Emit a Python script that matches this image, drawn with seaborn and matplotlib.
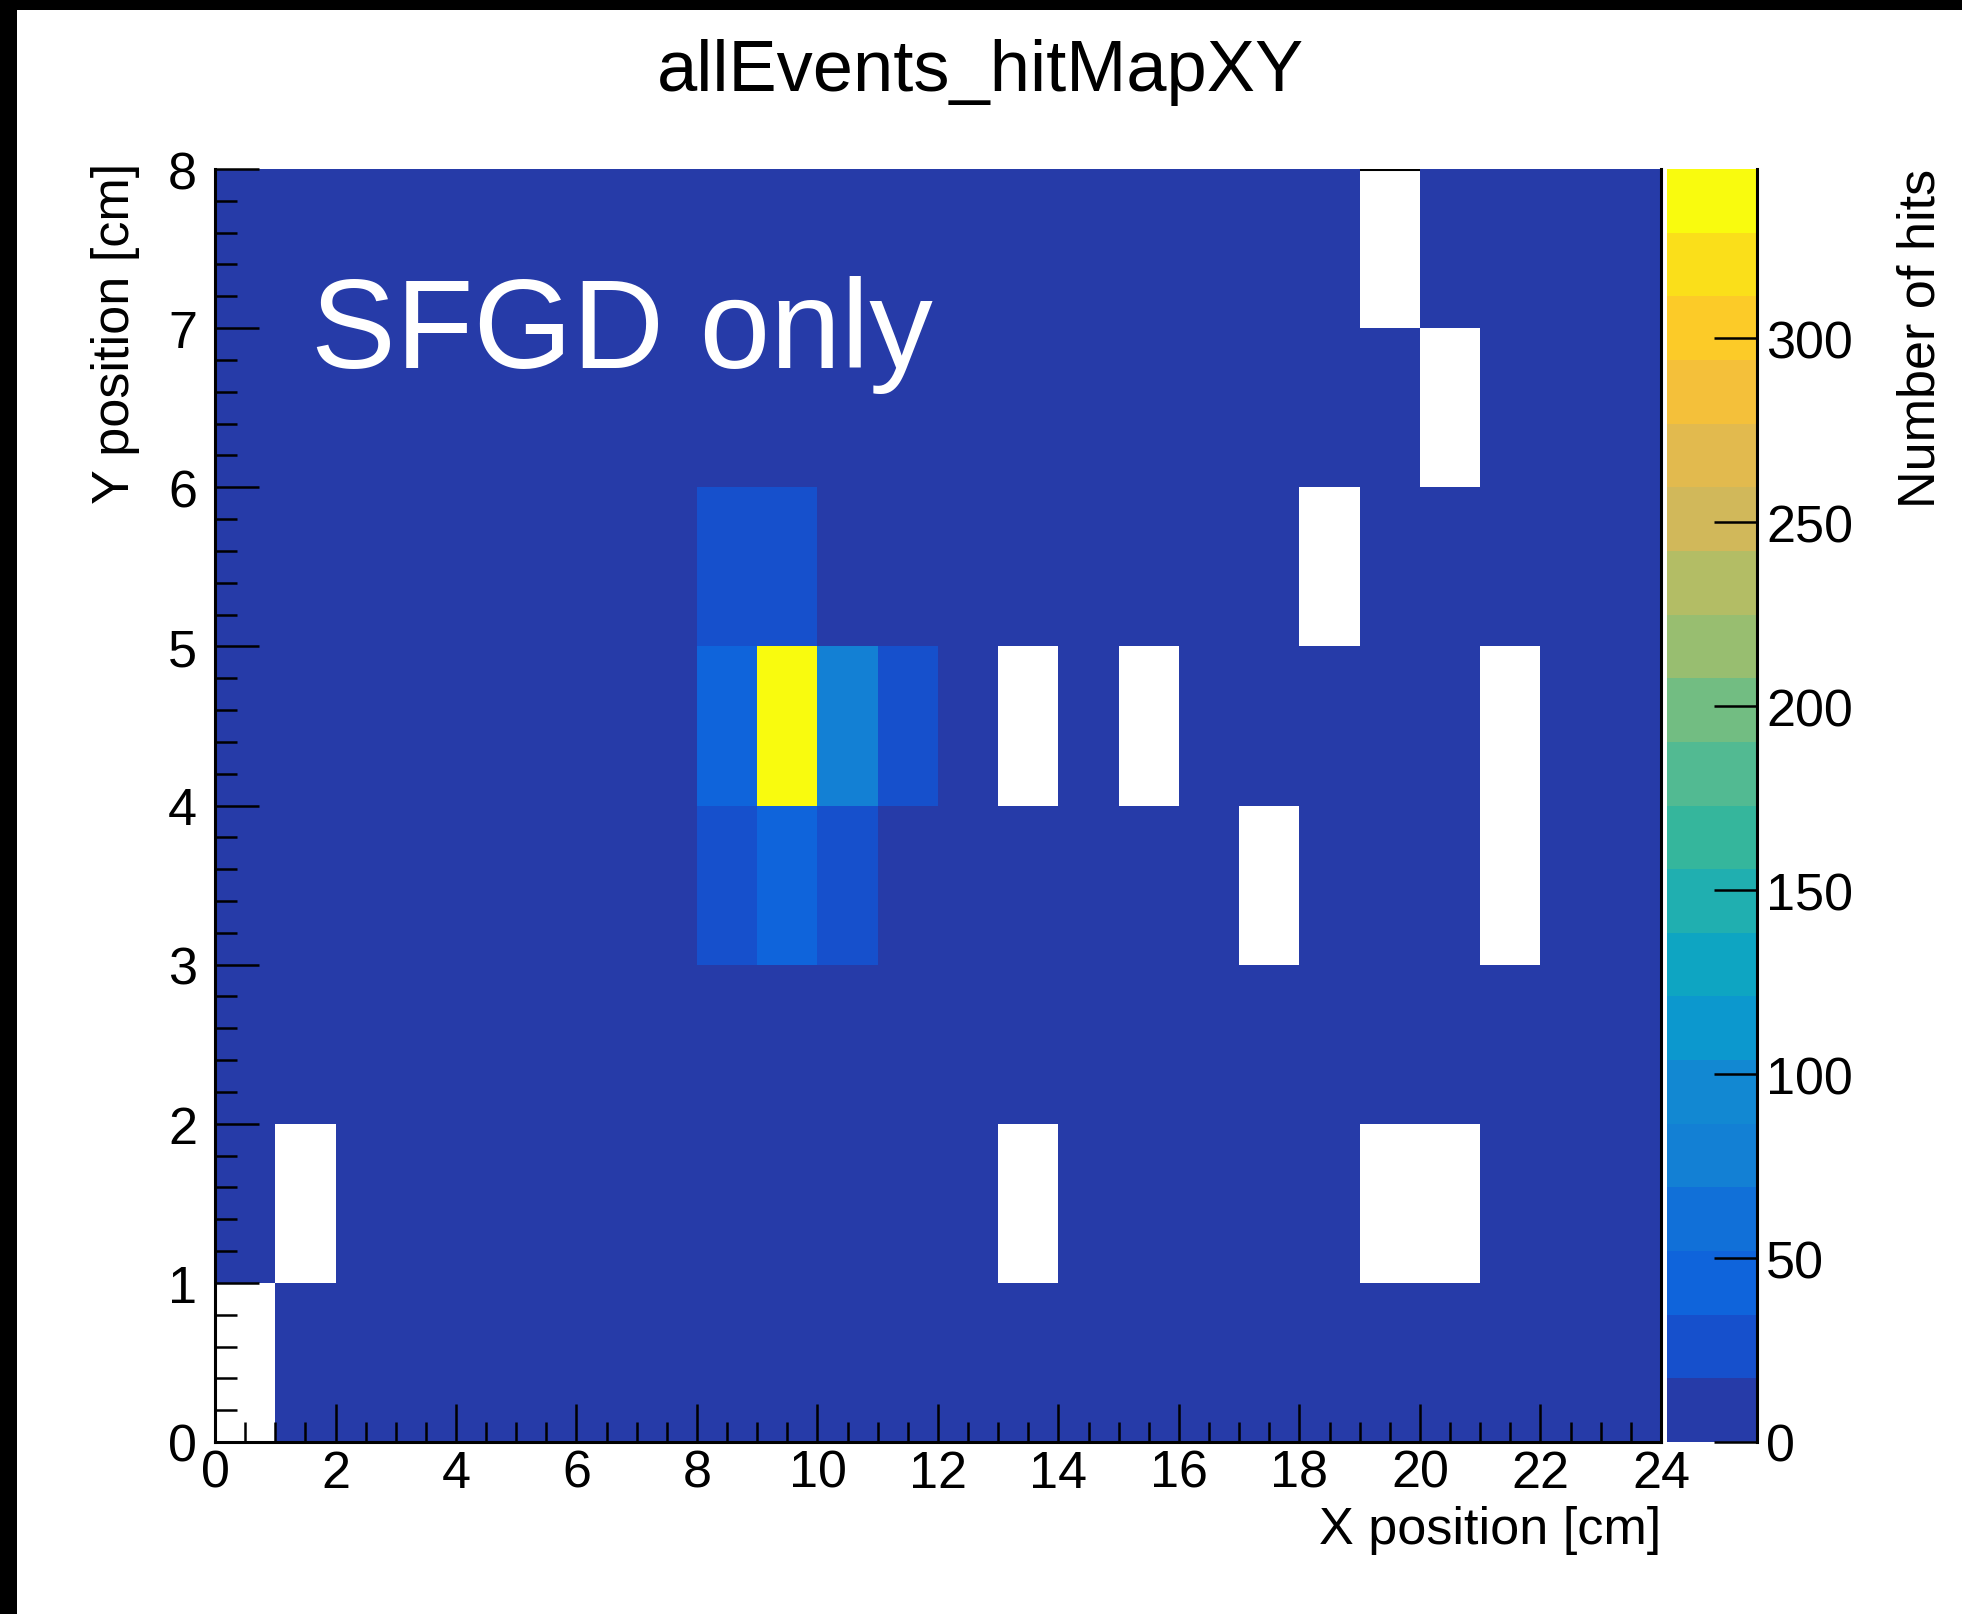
import numpy as np
import pandas as pd
import matplotlib
matplotlib.use("Agg")
import matplotlib.pyplot as plt
from matplotlib.colors import ListedColormap, BoundaryNorm
from matplotlib.ticker import MultipleLocator
from matplotlib.patches import Rectangle
import seaborn as sns

plt.rcParams['font.family'] = ['Liberation Sans', 'DejaVu Sans']

# ---------------- data ----------------
x_bins = list(range(24))          # bin lower edges, 1 cm wide
y_bins = list(range(8))
# hits[y][x], y from 0 (bottom) to 7 (top); 0 = empty (not drawn)
hits_y0 = [0, 5, 6, 7, 8, 8, 9, 10, 11, 12, 11, 10, 9, 8, 7, 6, 6, 5, 4, 5, 4, 3, 4, 3]
hits_y1 = [6, 0, 7, 8, 9, 9, 10, 11, 12, 13, 12, 11, 9, 0, 8, 7, 6, 5, 5, 0, 0, 4, 5, 4]
hits_y2 = [7, 6, 8, 9, 10, 11, 12, 13, 15, 16, 14, 12, 11, 10, 9, 8, 7, 6, 5, 5, 4, 5, 4, 3]
hits_y3 = [8, 7, 9, 10, 11, 12, 14, 16, 26, 44, 24, 16, 13, 11, 10, 9, 8, 0, 6, 5, 6, 0, 5, 4]
hits_y4 = [9, 8, 10, 11, 12, 13, 15, 16, 45, 346, 78, 28, 15, 0, 11, 0, 9, 8, 7, 6, 5, 0, 6, 5]
hits_y5 = [8, 7, 9, 8, 10, 11, 13, 15, 25, 27, 16, 14, 12, 10, 9, 8, 7, 6, 0, 5, 6, 7, 5, 6]
hits_y6 = [7, 6, 8, 7, 9, 8, 10, 12, 14, 15, 13, 11, 9, 8, 7, 6, 5, 6, 5, 4, 0, 5, 6, 4]
hits_y7 = [6, 5, 7, 8, 6, 7, 9, 8, 10, 11, 9, 8, 7, 6, 7, 5, 6, 4, 5, 0, 6, 5, 4, 5]

z_max = 346
n_levels = 20
band_colors = ['#263BA8', '#1650CC', '#0F64DB', '#1170D8', '#1380D4',
               '#1288D2', '#0C98CE', '#0EA5C2', '#20AFB0', '#35B69C',
               '#52BA92', '#72BD82', '#98BE70', '#B3BD65', '#D1B85A',
               '#E2BA4E', '#F4C03A', '#FCCB28', '#FADF1A', '#F9FB0E']

x_ticks = list(range(0, 25, 2))
y_ticks = list(range(0, 9))
cbar_ticks = [0, 50, 100, 150, 200, 250, 300]

title = "allEvents_hitMapXY"
x_title = "X position [cm]"
y_title = "Y position [cm]"
z_title = "Number of hits"
annotation = "SFGD only"

# ---------------- figure ----------------
W, H = 1962, 1615
fig = plt.figure(figsize=(W / 100, H / 100), dpi=100)
fig.patch.set_facecolor('white')

ax_l, ax_r, ax_t, ax_b = 215, 1661, 170, 1443
ax = fig.add_axes([ax_l / W, (H - ax_b) / H, (ax_r - ax_l) / W, (ax_b - ax_t) / H])
cb_l, cb_r = 1667, 1757
cax = fig.add_axes([cb_l / W, (H - ax_b) / H, (cb_r - cb_l) / W, (ax_b - ax_t) / H])

hits = [hits_y0, hits_y1, hits_y2, hits_y3, hits_y4, hits_y5, hits_y6, hits_y7]
df = pd.DataFrame(hits, index=y_bins, columns=x_bins)
mask = df == 0

levels = np.linspace(0, z_max, n_levels + 1)
cmap = ListedColormap(band_colors)
cmap.set_over(band_colors[-1])
norm = BoundaryNorm(levels, cmap.N)

sns.heatmap(df, mask=mask, cmap=cmap, norm=norm, ax=ax, cbar=True, cbar_ax=cax,
            xticklabels=False, yticklabels=False, linewidths=0)

ax.set_xlim(0, 24)
ax.set_ylim(0, 8)

# spines
for side in ['left', 'bottom', 'right', 'top']:
    ax.spines[side].set_visible(True)
    ax.spines[side].set_color('black')
    ax.spines[side].set_linewidth(2.2)
# top frame line lies under the bins: only visible above empty bins
ax.spines['top'].set_zorder(0.5)
ax.spines['top'].set_clip_path(ax.patch)

# ticks
ax.set_xticks(x_ticks)
ax.set_xticklabels([str(v) for v in x_ticks])
ax.set_yticks(y_ticks)
ax.set_yticklabels([str(v) for v in y_ticks])
ax.xaxis.set_minor_locator(MultipleLocator(0.5))
ax.yaxis.set_minor_locator(MultipleLocator(0.2))
ax.tick_params(axis='x', which='major', direction='in', length=27.5, width=1.8,
               labelsize=37.5, pad=5, bottom=True, top=False, colors='black')
ax.tick_params(axis='x', which='minor', direction='in', length=14.5, width=1.8,
               bottom=True, top=False)
ax.tick_params(axis='y', which='major', direction='in', length=32, width=1.8,
               labelsize=37.5, pad=13, left=True, right=False)
ax.tick_params(axis='y', which='minor', direction='in', length=15.5, width=1.8,
               left=True, right=False)

# axis titles
ax.set_xlabel(x_title, fontsize=37.5)
ax.xaxis.label.set_ha('right')
ax.xaxis.label.set_va('center')
ax.xaxis.set_label_coords(1.0, (ax_b - 1531) / (ax_b - ax_t))

ax.set_ylabel(y_title, fontsize=37.5)
ax.yaxis.label.set_rotation_mode('default')
ax.yaxis.label.set_ha('center')
ax.yaxis.label.set_va('top')
ax.yaxis.set_label_coords((115 - ax_l) / (ax_r - ax_l), (ax_b - 163) / (ax_b - ax_t))

# annotation
ax.text((311 - ax_l) / (ax_r - ax_l), (ax_b - 368) / (ax_b - ax_t), annotation,
        transform=ax.transAxes, color='white', fontsize=91.5,
        ha='left', va='baseline')

# colorbar
cb = ax.collections[0].colorbar
cb.set_ticks(cbar_ticks)
cb.set_ticklabels([str(v) for v in cbar_ticks])
cb.minorticks_off()
cb.outline.set_visible(False)
cax.spines['right'].set_visible(True)
cax.spines['right'].set_color('black')
cax.spines['right'].set_linewidth(2.2)
cax.yaxis.set_ticks_position('right')
cax.tick_params(axis='y', which='major', direction='in', length=31, width=1.8,
                labelsize=37.5, pad=6.5, right=True, left=False)
cax.set_ylabel(z_title, fontsize=37.5)
cax.yaxis.set_label_position('right')
cax.yaxis.label.set_rotation(90)
cax.yaxis.label.set_rotation_mode('default')
cax.yaxis.label.set_ha('center')
cax.yaxis.label.set_va('top')
cax.yaxis.set_label_coords((1921 - cb_l) / (cb_r - cb_l), (ax_b - 169) / (ax_b - ax_t))

# title
fig.text(0.5, (H - 91) / H, title, fontsize=52, ha='center', va='baseline')

# black screenshot border (top and left)
fig.patches.append(Rectangle((0, 1 - 11 / H), 1, 11 / H, transform=fig.transFigure,
                             facecolor='black', edgecolor='none', zorder=10))
fig.patches.append(Rectangle((0, 0), 17 / W, 1, transform=fig.transFigure,
                             facecolor='black', edgecolor='none', zorder=10))

fig.savefig('out.png', dpi=100)
